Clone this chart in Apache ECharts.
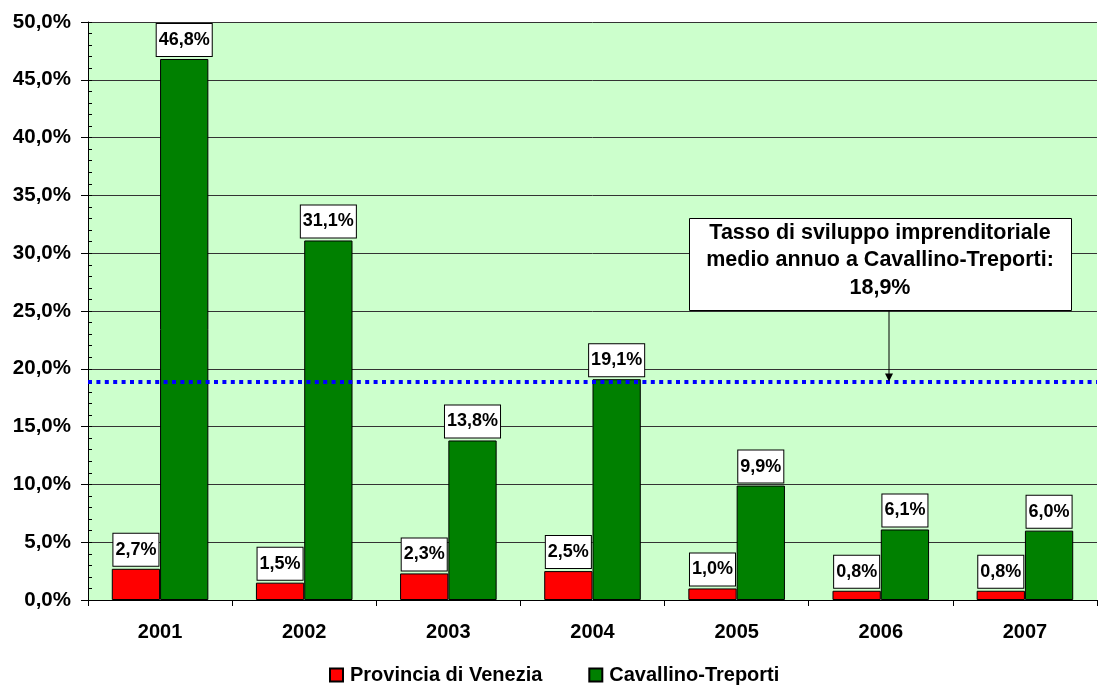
<!DOCTYPE html>
<html>
<head>
<meta charset="utf-8">
<script src="https://cdn.jsdelivr.net/npm/echarts@6/dist/echarts.min.js"></script>
<style>
  html, body { margin: 0; padding: 0; background: #ffffff; }
  #chart { width: 1099px; height: 685px; }
</style>
</head>
<body>
<div id="chart"></div>
<script>
// Tasso di sviluppo imprenditoriale annuo, 2001-2007
const years = ['2001', '2002', '2003', '2004', '2005', '2006', '2007'];
const provinciaVenezia = [2.7, 1.5, 2.3, 2.5, 1.0, 0.8, 0.8];
const cavallinoTreporti = [46.8, 31.1, 13.8, 19.1, 9.9, 6.1, 6.0];
const mediaCavallino = 18.9;
const seriesNames = ['Provincia di Venezia', 'Cavallino-Treporti'];
const noteLines = [
  'Tasso di sviluppo imprenditoriale',
  'medio annuo a Cavallino-Treporti:',
  '18,9%'
];

const FONT = '"Liberation Sans", Arial, sans-serif';
const pct = v => v.toFixed(1).replace('.', ',') + '%';

const chart = echarts.init(document.getElementById('chart'), null, { renderer: 'canvas' });

const valueLabel = {
  show: true,
  position: 'top',
  distance: 3,
  formatter: p => pct(p.value),
  fontFamily: FONT,
  fontWeight: 'bold',
  fontSize: 18,
  lineHeight: 20,
  color: '#000',
  backgroundColor: '#ffffff',
  borderColor: '#000000',
  borderWidth: 1,
  padding: [6, 2]
};

chart.setOption({
  animation: false,
  textStyle: { fontFamily: FONT },
  grid: {
    left: 88, right: 2, top: 22, bottom: 85,
    show: true, backgroundColor: '#CCFFCC', borderWidth: 0
  },
  legend: {
    top: 665,
    left: 329,
    padding: 0,
    itemWidth: 13,
    itemHeight: 13,
    itemGap: 46,
    icon: 'rect',
    textStyle: { fontFamily: FONT, fontWeight: 'bold', fontSize: 20, color: '#000', padding: [0, 0, 0, 2] },
    data: seriesNames
  },
  xAxis: {
    type: 'category',
    data: years,
    axisLine: { lineStyle: { color: '#000', width: 1 } },
    axisTick: { show: true, length: 6, lineStyle: { color: '#000' } },
    axisLabel: {
      margin: 22,
      fontFamily: FONT, fontWeight: 'bold', fontSize: 20, color: '#000'
    }
  },
  yAxis: [
    {
      type: 'value',
      min: 0, max: 50, interval: 5,
      axisLine: { show: true, lineStyle: { color: '#000', width: 1 } },
      axisTick: { show: true, length: 7, lineStyle: { color: '#000' } },
      axisLabel: {
        margin: 17,
        formatter: v => pct(v),
        fontFamily: FONT, fontWeight: 'bold', fontSize: 20.5, color: '#000'
      },
      splitLine: { show: true, lineStyle: { color: '#333', width: 1 } }
    },
    {
      // minor ticks every 1% on the inside of the value axis
      type: 'value',
      position: 'left',
      min: 0, max: 50, interval: 1,
      axisLine: { show: false },
      axisTick: { show: true, inside: true, length: 4, lineStyle: { color: '#000' } },
      axisLabel: { show: false },
      splitLine: { show: false }
    }
  ],
  series: [
    {
      name: seriesNames[0],
      type: 'bar',
      data: provinciaVenezia,
      barGap: '0%',
      barCategoryGap: '33%',
      itemStyle: { color: '#FF0000', borderColor: '#000', borderWidth: 1 },
      label: valueLabel
    },
    {
      name: seriesNames[1],
      type: 'bar',
      data: cavallinoTreporti,
      barGap: '0%',
      barCategoryGap: '33%',
      itemStyle: { color: '#008000', borderColor: '#000', borderWidth: 1 },
      label: valueLabel,
      markLine: {
        silent: true,
        symbol: ['none', 'none'],
        label: { show: false },
        lineStyle: { color: '#0000FF', width: 4, type: [4, 4.4], opacity: 1 },
        data: [{ yAxis: mediaCavallino }]
      }
    }
  ]
});

// Annotation box with arrow pointing to the average line
const boxLeft = 689, boxTop = 218, boxW = 382, boxH = 92;
const arrowX = boxLeft + boxW / 2 + 9;
const lineY = chart.convertToPixel({ yAxisIndex: 0 }, mediaCavallino);

chart.setOption({
  graphic: [
    {
      type: 'line',
      z: 100,
      shape: { x1: arrowX, y1: boxTop + boxH, x2: arrowX, y2: lineY - 6 },
      style: { stroke: '#000', lineWidth: 1 }
    },
    {
      type: 'polygon',
      z: 100,
      shape: { points: [[arrowX - 4, lineY - 8], [arrowX + 4, lineY - 8], [arrowX, lineY]] },
      style: { fill: '#000' }
    },
    {
      type: 'rect',
      z: 100,
      shape: { x: boxLeft + 0.5, y: boxTop + 0.5, width: boxW, height: boxH },
      style: { fill: '#ffffff', stroke: '#000', lineWidth: 1 }
    },
    {
      type: 'text',
      z: 101,
      x: boxLeft + boxW / 2,
      y: boxTop + 1,
      style: {
        text: noteLines.join('\n'),
        fontFamily: FONT,
        fontWeight: 'bold',
        fontSize: 21.5,
        lineHeight: 27.5,
        align: 'center',
        verticalAlign: 'top',
        fill: '#000'
      }
    }
  ]
});
</script>
</body>
</html>
